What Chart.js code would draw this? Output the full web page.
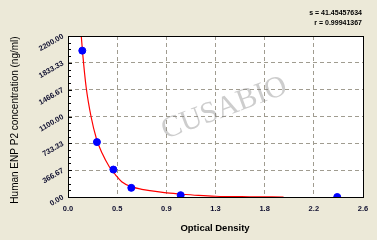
<!DOCTYPE html>
<html>
<head>
<meta charset="utf-8">
<script src="https://cdn.jsdelivr.net/npm/chart.js@4/dist/chart.umd.min.js"></script>
<style>
  html, body { margin: 0; padding: 0; background: #ece9d8; }
  #wrap { width: 377px; height: 240px; }
</style>
</head>
<body>
<div id="wrap"><canvas id="c" width="377" height="240"></canvas></div>
<script>
// standard points
const odValues = [0.126, 0.255, 0.40, 0.558, 0.993, 2.373];
const concValues = [2000, 750, 375, 125, 25, 0];

// fitted curve, sampled by eye along the red line
const curveX = [0.117, 0.13, 0.16, 0.203, 0.25, 0.30, 0.364, 0.42, 0.473, 0.558, 0.65, 0.722, 0.85, 0.987, 1.15, 1.3, 1.6, 1.9];
const curveY = [2200, 1950, 1500, 1100, 800, 600, 414, 300, 209, 141, 105, 86, 60, 41, 22, 10, 3, 0];

const xTickValues = [0, 0.4333, 0.8667, 1.3, 1.7333, 2.1667, 2.6];
const xTickLabels = ["0.0", "0.5", "0.9", "1.3", "1.8", "2.2", "2.6"];
const yTickValues = [0, 366.67, 733.33, 1100, 1466.67, 1833.33, 2200];
const yTickLabels = ["0.00", "366.67", "733.33", "1100.00", "1466.67", "1833.33", "2200.00"];

const statLines = ["s = 41.45457634", "r = 0.99941367"];
const xTitle = "Optical Density";
const yTitle = "Human ENP P2 concentration (ng/ml)";

const decor = {
  id: "decor",
  beforeDraw(chart) {
    const { ctx, chartArea: a } = chart;
    ctx.save();
    ctx.fillStyle = "#ffffff";
    ctx.fillRect(a.left, a.top, a.right - a.left, a.bottom - a.top);
    ctx.restore();
  },
  beforeDatasetsDraw(chart) {
    // faint watermark
    const { ctx } = chart;
    ctx.save();
    ctx.translate(215, 112);
    ctx.rotate(-0.36);
    ctx.fillStyle = "rgba(130,130,130,0.4)";
    ctx.font = "30px 'Liberation Serif', serif";
    ctx.textAlign = "center";
    ctx.textBaseline = "middle";
    ctx.fillText("CUSABIO", 10, 0);
    ctx.restore();
  },
  afterDraw(chart) {
    const { ctx, chartArea: a } = chart;
    const y = chart.scales.y;
    ctx.save();
    // minor ticks on the y axis, inside the box
    ctx.strokeStyle = "#000";
    ctx.lineWidth = 1;
    ctx.beginPath();
    for (let i = 0; i < yTickValues.length; i++) {
      const py = Math.round(y.getPixelForValue(yTickValues[i])) + 0.5;
      ctx.moveTo(a.left, py); ctx.lineTo(a.left + 4, py);
      if (i < yTickValues.length - 1) {
        const step = (yTickValues[i + 1] - yTickValues[i]) / 4;
        for (let k = 1; k < 4; k++) {
          const my = Math.round(y.getPixelForValue(yTickValues[i] + k * step)) + 0.5;
          ctx.moveTo(a.left, my); ctx.lineTo(a.left + 3, my);
        }
      }
    }
    ctx.stroke();
    // plot box
    ctx.strokeRect(Math.round(a.left) + 0.5, Math.round(a.top) + 0.5,
      Math.round(a.right - a.left), Math.round(a.bottom - a.top));

    // titles
    ctx.fillStyle = "#000";
    ctx.font = "bold 9.5px 'Liberation Sans', Arial, sans-serif";
    ctx.textAlign = "center";
    ctx.textBaseline = "middle";
    ctx.fillText(xTitle, 215, 228);

    ctx.save();
    ctx.translate(15, 120);
    ctx.rotate(-Math.PI / 2);
    ctx.font = "10px 'Liberation Sans', Arial, sans-serif";
    ctx.fillText(yTitle, 0, 0);
    ctx.restore();

    ctx.font = "bold 7px 'Liberation Sans', Arial, sans-serif";
    ctx.textAlign = "right";
    ctx.fillText(statLines[0], 362, 13);
    ctx.fillText(statLines[1], 362, 23);
    ctx.restore();
  }
};

const tickFont = { family: "'Liberation Sans', Arial, sans-serif", size: 7.5, weight: "bold" };

new Chart(document.getElementById("c"), {
  type: "scatter",
  data: {
    datasets: [
      {
        data: odValues.map((x, i) => ({ x, y: concValues[i] })),
        backgroundColor: "#0000ff",
        borderColor: "#0000ff",
        pointRadius: 3.5,
        pointHoverRadius: 3.5,
        order: 0,
      },
      {
        data: curveX.map((x, i) => ({ x, y: curveY[i] })),
        showLine: true,
        borderColor: "#ff0000",
        borderWidth: 1.2,
        pointRadius: 0,
        cubicInterpolationMode: "monotone",
        order: 1,
      },
    ],
  },
  options: {
    responsive: false,
    animation: false,
    events: [],
    layout: { padding: { left: 0, top: 36, right: 14, bottom: 0 } },
    plugins: { legend: { display: false }, tooltip: { enabled: false } },
    scales: {
      x: {
        type: "linear",
        min: 0,
        max: 2.6,
        afterBuildTicks: (s) => { s.ticks = xTickValues.map(v => ({ value: v })); },
        afterFit: (s) => { s.height = 43; },
        ticks: {
          color: "#101030",
          font: tickFont,
          padding: 7,
          maxRotation: 0,
          autoSkip: false,
          callback: (v, i) => xTickLabels[i],
        },
        grid: { color: "#a09c90", lineWidth: 1, drawTicks: false },
        border: { display: false, dash: [4, 3] },
      },
      y: {
        type: "linear",
        min: 0,
        max: 2200,
        afterBuildTicks: (s) => { s.ticks = yTickValues.map(v => ({ value: v })); },
        afterFit: (s) => { s.width = 68; },
        ticks: {
          color: "#101030",
          font: tickFont,
          padding: 5,
          minRotation: 30,
          maxRotation: 30,
          autoSkip: false,
          callback: (v, i) => yTickLabels[i],
        },
        grid: { color: "#a09c90", lineWidth: 1, drawTicks: false },
        border: { display: false, dash: [4, 3] },
      },
    },
  },
  plugins: [decor],
});
</script>
</body>
</html>
